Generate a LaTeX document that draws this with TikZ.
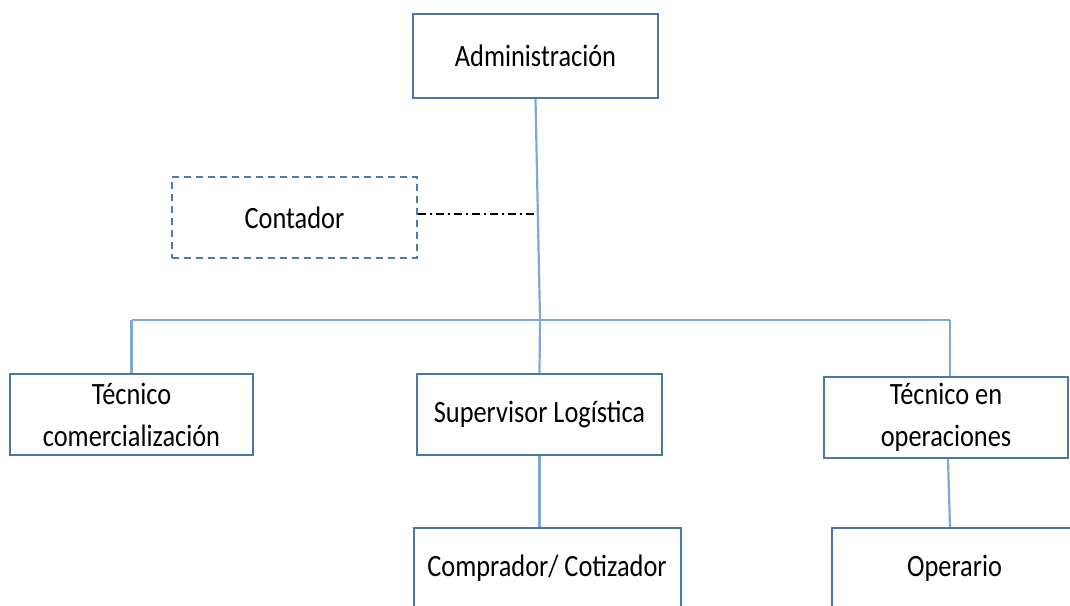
\documentclass[tikz,border=0pt]{standalone}
\usepackage{fontspec}
\setmainfont{Carlito}[FakeStretch=0.85]
\begin{document}
\begin{tikzpicture}[x=1pt,y=-1pt,
  box/.style={draw=boxblue, line width=2pt, fill=white, inner sep=0pt, align=center,
    font=\fontsize{31}{42}\selectfont, text=black},
  dbox/.style={box, draw=dashblue, dash pattern=on 7pt off 5pt},
  link/.style={draw=linkblue, line width=2.2pt},
  dd/.style={draw=black, line width=1.8pt, dash pattern=on 8pt off 4pt on 2pt off 4pt}]
\definecolor{boxblue}{HTML}{4A76A8}
\definecolor{dashblue}{HTML}{4F7CAC}
\definecolor{linkblue}{HTML}{7FA8DA}
\useasboundingbox (0,0) rectangle (1070,605);
\clip (0,0) rectangle (1070,605);
\node[box, minimum width=245pt, minimum height=84pt] (admin) at (535.5,56) {Administración};
\node[dbox, minimum width=245pt, minimum height=81pt] (cont) at (294.5,217.5) {Contador};
\node[box, minimum width=243pt, minimum height=81pt] (tcom) at (131.5,414.5) {Técnico\\comercialización};
\node[box, minimum width=245pt, minimum height=81pt] (sup) at (539.5,414.5) {Supervisor Logística};
\node[box, minimum width=244pt, minimum height=81pt] (tops) at (946,417.5) {Técnico en\\operaciones};
\node[box, minimum width=267pt, minimum height=81pt] (comp) at (547,568.5) {Comprador/ Cotizador};
\node[box, minimum width=245pt, minimum height=81pt] (oper) at (954.5,568.5) {Operario};
\coordinate (hub) at (540,320);
\coordinate (tap) at (537.5,214);
\coordinate (hl) at (131.5,320);
\coordinate (hr) at (950,320);
\draw[link] (admin.south) -- (hub);
\draw[link] (hl) -- (hr);
\draw[link] (hl) -- (tcom.north);
\draw[link] (hr) -- (hr |- tops.north);
\draw[link] (hub) -- (sup.north);
\draw[link] (sup.south) -- (comp.north -| sup.south);
\draw[link] ([xshift=2pt]tops.south) -- ([xshift=4pt]tops.south |- oper.north);
\draw[dd] (tap -| cont.east) -- (tap);
\end{tikzpicture}
\end{document}
